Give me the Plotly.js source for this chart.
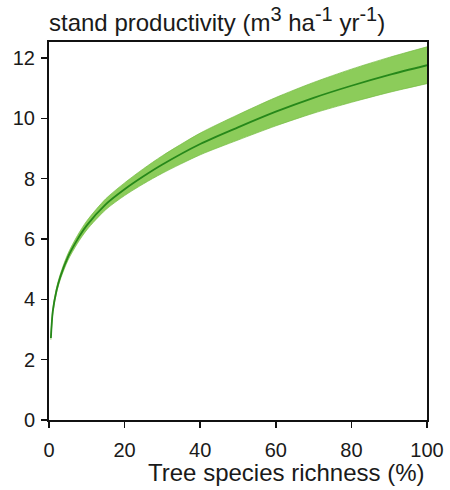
<!DOCTYPE html>
<html>
<head>
<meta charset="utf-8">
<script src="https://cdn.plot.ly/plotly-3.0.1.min.js"></script>
<style>
  html, body { margin: 0; padding: 0; background: #fff; }
  #chart { width: 450px; height: 490px; }
</style>
</head>
<body>
<div id="chart"></div>
<script>
// Tree species richness (%) and fitted stand productivity
const richness = [0.5, 1, 2, 3, 5, 7.5, 10, 15, 20, 25, 30, 40, 50, 60, 70, 80, 90, 100];
const productivity = [2.72, 3.6, 4.3, 4.75, 5.4, 5.98, 6.45, 7.15, 7.65, 8.08, 8.47, 9.15, 9.7, 10.22, 10.68, 11.08, 11.44, 11.76];
// confidence band limits
const upperBound = [2.78, 3.67, 4.38, 4.84, 5.51, 6.11, 6.6, 7.33, 7.86, 8.33, 8.76, 9.51, 10.12, 10.69, 11.19, 11.63, 12.02, 12.37];
const lowerBound = [2.66, 3.53, 4.22, 4.66, 5.29, 5.85, 6.3, 6.97, 7.44, 7.83, 8.18, 8.79, 9.28, 9.75, 10.17, 10.53, 10.86, 11.15];

const xTicks = [0, 20, 40, 60, 80, 100];
const yTicks = [0, 2, 4, 6, 8, 10, 12];

const font = 'Arial, "Liberation Sans", sans-serif';
const bandColor = 'rgb(140,204,90)';
const bandEdge = 'rgba(118,188,68,0.9)';
const lineColor = 'rgb(38,136,26)';

const traces = [
  {
    x: richness, y: lowerBound, mode: 'lines',
    line: { color: bandEdge, width: 0.8, shape: 'spline', smoothing: 0.8 },
    hoverinfo: 'skip', showlegend: false
  },
  {
    x: richness, y: upperBound, mode: 'lines', fill: 'tonexty', fillcolor: bandColor,
    line: { color: bandEdge, width: 0.8, shape: 'spline', smoothing: 0.8 },
    hoverinfo: 'skip', showlegend: false
  },
  {
    x: richness, y: productivity, mode: 'lines',
    line: { color: lineColor, width: 1.8, shape: 'spline', smoothing: 0.8 },
    showlegend: false
  }
];

const axisCommon = {
  showgrid: false, zeroline: false,
  showline: true, linecolor: '#111', linewidth: 2, mirror: true,
  ticks: 'outside', ticklen: 6, tickwidth: 1.5, tickcolor: '#111',
  tickfont: { family: font, size: 20, color: '#1a1a1a' }
};

const sup = s => '<sup><span style="font-size:20px">' + s + '</span></sup>';

const layout = {
  width: 450, height: 490,
  margin: { l: 49, r: 23, t: 42, b: 70 },
  paper_bgcolor: '#fff', plot_bgcolor: '#fff',
  title: {
    text: 'stand productivity (m' + sup('3') + ' ha' + sup('-1') + ' yr' + sup('-1') + ')',
    font: { family: font, size: 24, color: '#1a1a1a' },
    x: 0, xref: 'paper', xanchor: 'left',
    y: 1 - 23 / 490, yref: 'container', yanchor: 'middle'
  },
  xaxis: Object.assign({}, axisCommon, {
    range: [0, 100], tickvals: xTicks, ticktext: xTicks.map(String),
    ticklabelstandoff: 5
  }),
  yaxis: Object.assign({}, axisCommon, {
    range: [0, 12.53], tickvals: yTicks, ticktext: yTicks.map(String),
    ticklabelstandoff: 2
  }),
  annotations: [{
    text: 'Tree species richness (%)',
    xref: 'paper', yref: 'paper', x: 1, y: -0.1376,
    xanchor: 'right', yanchor: 'middle', showarrow: false,
    font: { family: font, size: 24, color: '#1a1a1a' }
  }]
};

Plotly.newPlot('chart', traces, layout, { staticPlot: true, displayModeBar: false });
</script>
</body>
</html>
